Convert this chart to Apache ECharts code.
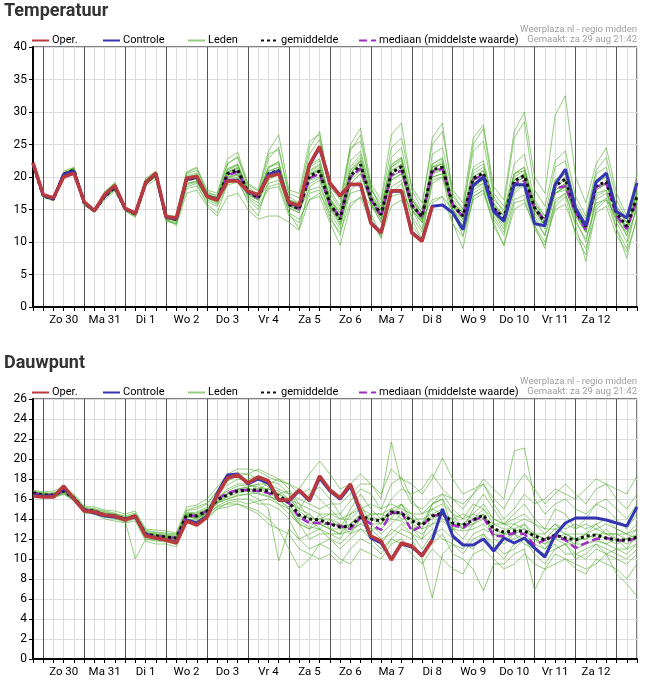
<!DOCTYPE html>
<html><head><meta charset="utf-8">
<script src="https://cdn.jsdelivr.net/npm/echarts@6/dist/echarts.min.js"></script>
<style>html,body{margin:0;padding:0;background:#fff}#c{width:652px;height:684px}</style>
</head><body><div id="c"></div>
<script>
// 6-hourly steps from za 29 aug 18:00 to zo 13 sep 12:00 (60 points)
const dayLabels = ['Zo 30','Ma 31','Di 1','Wo 2','Do 3','Vr 4','Za 5','Zo 6','Ma 7','Di 8','Wo 9','Do 10','Vr 11','Za 12'];
const steps = Array.from({length:60}, (_, i) => i);

// ---------- Temperatuur ----------
const tOper = [22.2,17.3,16.8,20.0,20.6,16.2,14.8,17.3,18.7,15.2,14.4,19.1,20.6,13.9,13.7,19.8,20.1,17.0,16.5,19.4,19.4,17.8,17.3,20.1,20.5,16.1,15.6,21.9,24.7,19.1,17.1,18.9,18.9,12.9,11.4,17.9,17.9,11.4,10.1,15.5];
const tControle = [22.1,17.2,16.7,20.4,20.9,16.1,14.8,17.2,18.6,15.1,14.4,19.0,20.5,13.8,13.6,19.7,20.0,17.1,16.6,19.5,19.5,17.7,17.2,20.4,20.9,16.0,15.5,21.8,24.5,19.0,17.2,18.8,18.8,13.0,11.5,17.8,17.8,11.5,10.2,15.5,
  15.7,14.5,11.9,18.7,20.0,14.7,13.2,18.8,18.8,12.8,12.5,18.8,21.2,15.2,12.5,19.2,20.6,14.7,13.7,19.1];
const tGemiddelde = [22.0, 17.1,16.6,20.4,21.1, 16.0,14.8,17.0,18.4, 15.1,14.3,19.2,20.4, 13.8,13.5,19.6,19.9, 17.0,16.5,20.5,21.1, 17.7,16.8,20.5,21.0, 15.8,15.1,20.1,20.9, 15.9,13.5,20.1,21.9, 16.7,14.2,20.6,21.6, 15.7,13.9,21.1,21.5, 15.7,14.0,19.8,20.6, 15.2,13.7,19.4,20.2, 15.3,13.0,18.6,19.7, 14.8,12.4,18.6,19.3, 14.5,12.4,17.0];
const tMediaan = [22.0,17.1,16.6,20.5,21.0,16.0,14.8,17.0,18.3,15.1,14.3,19.2,20.4,13.8,13.5,19.6,19.8,17.0,16.5,20.3,20.8,17.7,16.8,20.3,20.8,15.8,15.1,19.8,20.5,15.8,13.8,20.0,21.3,16.5,14.0,20.3,21.0,15.6,13.9,20.8,21.3,15.6,13.9,19.6,20.4,15.2,13.5,19.0,19.4,15.2,13.3,18.2,18.6,14.6,11.9,18.5,19.0,14.0,12.0,16.5];
const tLid01 = [22.0, 17.3,16.8,20.9,21.5, 16.2,15.0,17.6,19.2, 15.4,14.6,19.6,20.8, 14.2,13.9,20.5,21.0, 17.8,17.0,22.1,23.0, 18.5,17.2,22.8,24.6, 17.0,16.0,23.5,25.8, 17.5,15.0,24.0,26.5, 18.2,15.5,22.0,23.0, 16.5,14.0,21.0,22.2, 15.0,12.5,18.0,19.0, 14.0,11.5,17.5,18.8, 13.5,11.0,16.0,17.5, 13.0,10.5,15.5,16.8, 13.5,11.0,15.0];
const tLid02 = [21.8, 16.9,16.4,20.0,20.6, 15.6,14.6,16.5,17.8, 14.8,13.8,18.6,19.6, 13.2,12.8,18.2,18.6, 16.2,15.5,18.8,19.2, 16.5,15.0,18.2,18.5, 14.0,13.0,17.5,18.0, 13.5,11.5,16.0,16.8, 13.0,10.8,15.5,16.5, 12.5,10.5,16.0,17.0, 12.8,10.8,17.0,18.0, 13.5,11.0,16.5,17.2, 12.5,10.0,15.0,15.8, 11.5,9.0,14.5,15.5, 11.0,8.5,13.5];
const tLid03 = [22.1, 17.2,16.7,20.6,21.3, 16.1,14.9,17.2,18.5, 15.2,14.4,19.4,20.6, 13.9,13.6,20.0,20.4, 17.4,16.8,21.0,21.8, 18.0,17.5,21.5,22.0, 16.5,16.0,21.0,22.0, 16.5,14.5,22.5,24.0, 18.0,16.0,24.5,26.0, 18.5,16.0,25.0,27.0, 18.0,16.0,26.0,28.0, 18.5,16.5,27.0,30.0, 20.0,17.5,29.5,32.5, 20.0,16.0,22.0,24.5, 17.5,14.0,19.0];
const tLid04 = [22.0, 17.0,16.5,20.3,21.0, 15.9,14.7,17.1,18.6, 15.0,14.2,19.0,20.2, 13.6,13.3,19.8,20.3, 17.2,16.8,21.2,21.9, 18.2,17.0,21.5,22.4, 16.2,15.5,21.8,22.8, 16.8,14.0,21.0,22.5, 17.0,14.5,21.5,22.8, 16.0,14.0,22.0,23.0, 16.5,14.5,21.5,22.5, 16.0,14.0,20.5,21.5, 15.5,13.0,19.5,20.5, 15.0,12.0,19.0,20.0, 14.5,12.0,17.5];
const tLid05 = [21.9, 17.1,16.6,20.2,20.9, 16.0,14.9,16.9,18.1, 15.0,14.1,19.2,20.3, 14.0,13.7,19.0,19.3, 16.5,15.8,19.5,20.0, 16.8,15.5,18.5,19.0, 14.5,13.5,16.5,17.0, 13.0,9.5,15.5,17.0, 14.5,11.0,17.5,19.0, 14.0,11.5,19.0,20.0, 14.5,11.0,16.5,17.5, 13.0,9.5,15.0,16.0, 12.5,9.0,16.5,17.5, 12.5,7.0,15.0,16.5, 12.0,7.5,14.0];
const tLid06 = [22.0, 17.2,16.7,20.5,21.3, 16.3,15.0,17.8,19.0, 15.3,14.5,19.8,20.9, 13.9,13.8,20.6,21.4, 17.5,17.2,22.0,23.2, 18.8,17.8,23.5,24.2, 17.5,16.8,24.5,27.0, 18.0,15.5,25.0,27.5, 19.0,16.5,26.5,28.3, 18.0,15.0,26.0,28.3, 17.0,15.0,24.0,25.5, 17.0,14.5,22.0,23.5, 16.5,14.0,21.5,22.5, 16.0,13.5,20.5,21.5, 15.5,13.0,19.0];
const tLid07 = [22.0, 17.0,16.5,20.4,21.0, 15.8,14.6,16.8,18.2, 14.9,14.0,18.9,20.0, 13.4,13.0,18.8,19.2, 16.8,16.0,19.8,20.3, 17.2,16.5,19.0,19.5, 15.5,15.0,18.0,18.5, 15.0,13.5,17.5,18.0, 15.5,14.0,17.0,17.5, 15.0,13.5,16.5,17.0, 15.0,13.5,17.5,18.5, 14.5,12.5,18.0,19.0, 15.0,12.5,17.5,18.0, 14.5,12.5,16.0,16.5, 14.0,12.5,16.0];
const tLid08 = [22.0, 17.3,16.8,20.7,21.4, 16.1,14.8,17.3,18.8, 15.2,14.3,19.3,20.5, 13.7,13.2,19.3,19.8, 17.0,16.4,20.8,21.5, 17.8,16.8,20.8,21.5, 16.0,15.2,20.5,21.5, 16.2,13.5,20.5,22.5, 16.5,13.5,21.0,22.0, 16.0,13.0,23.5,24.5, 17.5,15.0,25.0,27.5, 17.5,15.5,26.0,28.5, 18.0,15.5,22.5,24.0, 17.0,14.0,21.0,23.0, 16.5,13.5,20.5];
const tLid09 = [21.9, 16.9,16.3,20.2,21.0, 15.8,14.5,16.8,18.0, 14.8,13.9,18.8,20.1, 13.3,12.8,18.5,19.0, 15.8,14.5,19.0,19.8, 16.0,14.0,19.5,20.5, 14.5,12.0,18.5,19.5, 14.0,11.0,18.0,19.5, 14.0,10.5,18.5,19.5, 13.5,10.5,19.5,20.0, 13.0,9.0,17.0,18.0, 12.5,9.5,16.0,16.5, 12.0,9.5,15.5,17.0, 11.0,8.0,17.0,18.0, 12.0,9.0,16.0];
const tLid10 = [22.1, 17.1,16.6,20.4,21.2, 16.0,14.8,17.1,18.4, 15.1,14.3,19.1,20.3, 13.8,13.4,19.6,20.0, 17.0,16.6,20.4,21.0, 17.6,16.8,20.6,21.2, 15.8,15.2,20.0,21.0, 16.0,13.5,20.5,22.0, 17.0,14.5,20.0,21.0, 15.5,13.5,21.5,22.0, 15.5,14.0,19.5,20.0, 15.0,13.5,19.5,20.5, 15.0,12.5,19.0,20.5, 14.5,12.0,19.5,20.0, 14.5,12.0,17.5];
const tLid11 = [22.0, 17.2,16.7,20.5,21.2, 16.2,14.9,17.5,18.9, 15.3,14.5,19.5,20.7, 14.1,13.9,20.8,21.5, 18.0,17.5,22.8,23.8, 19.0,18.0,24.0,26.5, 18.0,17.5,25.5,26.5, 18.5,16.5,24.5,25.5, 18.5,15.0,23.0,24.5, 17.0,14.5,20.5,21.5, 16.0,13.5,20.0,21.0, 15.5,14.0,20.5,21.0, 15.5,13.0,18.0,19.0, 14.5,11.5,18.0,19.0, 14.0,11.0,18.0];
const tLid12 = [22.0, 17.0,16.6,20.3,21.0, 15.9,14.7,16.9,18.3, 15.0,14.2,18.9,20.0, 13.6,12.5,17.5,18.0, 15.5,14.0,17.0,17.5, 15.0,13.5,14.0,14.0, 13.0,11.8,16.5,17.5, 14.5,12.0,19.0,20.5, 16.0,13.0,20.0,21.0, 15.0,12.0,20.0,20.5, 15.5,14.0,18.5,19.0, 14.5,12.0,19.0,20.0, 14.0,11.0,17.5,18.5, 13.5,10.0,16.5,17.5, 13.0,10.0,15.5];
const tLid13 = [22.0, 17.2,16.7,20.6,21.3, 16.1,14.9,17.3,18.7, 15.2,14.4,19.5,20.7, 14.0,13.7,20.2,20.6, 17.3,16.9,21.3,22.0, 18.0,17.2,21.5,22.3, 16.3,15.8,21.5,22.5, 16.8,14.5,21.5,23.5, 17.5,15.0,21.8,23.0, 16.5,14.5,22.0,22.8, 16.0,14.5,21.0,22.0, 15.8,14.2,20.5,21.5, 16.0,13.5,19.5,21.0, 15.5,13.0,19.5,20.5, 15.0,13.0,18.0];
const tLid14 = [22.0, 17.0,16.5,20.2,20.9, 15.9,14.7,16.8,18.1, 15.0,14.2,18.9,20.1, 13.6,13.2,19.0,19.4, 16.7,16.2,19.9,20.4, 17.4,16.4,19.8,20.3, 15.3,14.5,19.0,19.8, 15.2,12.5,19.0,20.5, 15.8,13.0,19.5,20.5, 15.0,13.0,20.0,20.5, 15.0,13.0,18.5,19.5, 14.5,13.0,18.5,19.0, 14.5,12.0,17.5,18.5, 14.0,11.5,17.5,18.0, 13.5,11.5,16.0];
const tLid15 = [22.0, 17.1,16.6,20.4,21.0, 16.0,14.8,16.9,18.3, 15.1,14.3,19.3,20.5, 13.8,13.5,19.5,19.7, 17.1,16.6,20.8,21.4, 17.5,16.5,20.0,20.8, 15.6,14.8,20.8,21.8, 16.5,14.0,21.0,23.0, 17.2,14.8,19.5,20.5, 15.0,13.0,20.5,21.0, 14.5,12.5,20.5,21.5, 16.5,15.0,20.0,21.0, 16.0,14.0,17.5,18.5, 14.0,11.5,19.5,20.5, 15.5,13.5,17.5];
const tLid16 = [22.0, 17.2,16.6,20.5,21.1, 16.1,14.8,17.1,18.5, 15.1,14.3,19.2,20.4, 13.8,13.6,19.8,20.2, 16.9,16.3,20.2,20.8, 17.8,17.2,21.0,21.5, 16.5,15.8,19.5,20.0, 15.5,12.8,19.5,21.0, 16.0,13.5,21.5,22.5, 16.5,14.5,21.5,22.0, 16.0,14.5,19.0,19.5, 15.0,13.0,18.5,19.5, 15.5,13.5,18.0,19.0, 15.0,12.5,18.0,19.0, 14.5,12.5,16.5];
const tLid17 = [22.1, 17.1,16.7,20.3,21.0, 15.9,14.8,17.0,18.4, 15.0,14.2,19.0,20.3, 13.7,13.4,19.4,19.8, 17.0,16.6,20.6,21.3, 17.6,16.9,20.3,20.8, 15.8,15.0,20.3,21.2, 16.0,13.0,19.8,21.5, 16.8,14.0,20.8,22.0, 15.5,13.5,21.0,21.5, 15.5,13.5,20.0,21.0, 15.5,14.0,19.5,20.5, 15.0,12.5,18.5,19.5, 14.5,12.0,18.0,19.0, 14.0,12.0,17.0];
const tLid18 = [21.9, 17.0,16.6,20.5,21.2, 16.0,14.9,17.2,18.6, 15.2,14.4,19.4,20.6, 13.9,13.5,19.7,20.0, 16.8,16.2,20.0,20.5, 17.0,16.0,20.0,20.5, 15.2,14.5,20.5,21.0, 15.5,13.5,20.5,22.5, 16.5,14.0,20.5,21.5, 15.5,13.5,21.5,22.5, 16.0,14.0,19.5,20.5, 14.5,13.0,19.0,20.0, 15.0,12.5,18.5,20.0, 14.5,12.0,18.5,19.0, 14.5,12.0,16.5];
const tLeden = [tLid01,tLid02,tLid03,tLid04,tLid05,tLid06,tLid07,tLid08,tLid09,tLid10,tLid11,tLid12,tLid13,tLid14,tLid15,tLid16,tLid17,tLid18];

// ---------- Dauwpunt ----------
const dOper = [16.3,16.2,16.2,17.3,16.0,14.8,14.7,14.4,14.3,13.9,14.3,12.3,12.1,11.9,11.6,13.8,13.4,14.2,16.4,18.1,18.4,17.6,18.2,17.8,15.9,15.9,16.9,15.9,18.3,16.9,16.1,17.5,14.8,12.3,11.8,9.9,11.6,11.3,10.3,11.9];
const dControle = [16.4,16.3,16.3,17.1,16.0,14.9,14.6,14.3,14.2,14.0,14.2,12.4,12.1,11.9,11.7,13.9,13.6,14.3,16.6,18.4,18.5,17.5,18.0,17.6,15.9,15.8,16.8,15.8,18.1,16.8,16.0,17.3,14.6,12.1,11.6,10.0,11.5,11.2,10.4,11.9,
  15.0,12.3,11.4,11.4,12.0,10.8,12.1,11.6,12.1,11.1,10.2,12.4,13.6,14.1,14.1,14.1,13.9,13.6,13.3,15.2];
const dGemiddelde = [16.6, 16.4,16.4,16.8,16.1, 14.9,14.8,14.4,14.3, 14.0,14.3,12.5,12.3, 12.2,12.1,14.4,14.3, 14.8,15.9,16.4,16.8, 16.9,16.9,16.8,16.3, 15.7,14.4,14.0,13.9, 13.5,13.2,13.3,14.2, 14.0,13.8,14.7,14.6, 13.8,13.4,14.3,14.6, 13.6,13.4,13.9,14.4, 13.0,12.7,12.8,12.8, 12.3,11.9,12.4,12.1, 11.9,12.3,12.4,12.1, 11.9,11.9,12.2];
const dMediaan = [16.6,16.4,16.4,16.8,16.1,14.9,14.8,14.4,14.3,14.0,14.3,12.5,12.3,12.2,12.1,14.4,14.3,14.8,16.0,16.6,16.9,16.9,16.8,16.6,16.0,15.6,14.2,13.6,13.6,13.5,13.3,13.0,14.2,13.5,12.9,14.6,14.7,12.8,13.3,14.3,14.5,13.4,13.1,13.9,14.2,12.3,12.3,12.6,12.5,11.4,11.9,12.3,11.9,11.1,11.6,12.0,12.1,11.9,11.8,12.1];
const dLid01 = [16.8, 16.5,16.6,17.0,16.3, 15.2,15.0,14.8,14.6, 14.2,14.5,12.8,12.6, 12.5,12.4,14.8,15.0, 15.5,16.8,17.8,18.6, 18.5,18.0,17.2,16.5, 16.8,15.0,16.5,17.2, 16.0,14.5,15.8,17.0, 16.5,15.0,17.5,18.2, 16.0,14.5,15.5,16.0, 14.5,13.0,15.0,16.5, 15.0,13.5,14.5,15.5, 14.0,13.0,15.0,14.5, 13.0,14.0,15.5,15.0, 14.0,13.0,14.5];
const dLid02 = [16.4, 16.2,16.1,16.5,15.8, 14.6,14.5,14.0,13.8, 13.6,13.8,11.8,11.5, 11.5,11.2,13.6,13.5, 14.0,15.0,15.2,15.5, 15.2,14.8,14.0,13.0, 12.5,11.0,10.5,10.0, 10.5,9.5,11.0,12.0, 11.5,10.5,12.0,11.5, 10.5,9.5,11.0,10.0, 9.0,8.5,10.5,11.0, 10.0,9.0,9.5,10.5, 9.5,9.0,10.5,10.0, 9.0,8.5,10.0,9.5, 9.0,8.0,9.5];
const dLid03 = [16.9, 16.7,16.8,17.2,16.5, 15.3,15.2,14.9,14.8, 14.5,14.8,13.0,12.9, 12.8,12.6,15.2,15.4, 16.0,17.2,18.5,19.0, 19.0,18.8,18.2,17.8, 17.5,17.0,18.5,19.8, 18.5,17.0,17.5,18.5, 17.5,16.5,19.0,18.0, 17.5,16.5,18.0,20.1, 18.0,16.5,17.0,17.5, 16.0,15.0,17.0,18.5, 17.0,15.5,16.5,17.5, 16.5,15.5,17.0,17.5, 16.0,15.0,16.5];
const dLid04 = [16.6, 16.3,16.4,16.7,16.0, 14.9,14.7,14.5,14.2, 13.9,14.2,12.4,12.3, 12.0,12.0,14.3,14.0, 14.5,15.5,16.5,17.0, 17.2,17.5,16.5,15.5, 14.5,13.5,13.0,14.5, 13.0,12.5,14.5,15.5, 13.5,12.5,13.5,14.5, 13.0,12.0,14.5,15.0, 13.0,12.0,13.5,14.5, 12.0,11.5,12.5,13.5, 12.0,11.0,12.5,12.0, 11.0,11.5,12.0,13.0, 12.0,11.0,12.5];
const dLid05 = [16.5, 16.4,16.2,16.6,15.9, 14.7,14.9,14.3,14.1, 13.8,10.0,12.0,11.9, 11.8,11.6,13.8,13.8, 14.6,15.6,16.0,16.3, 16.5,16.0,15.0,9.8, 13.0,12.0,12.5,13.0, 12.0,11.0,12.0,13.0, 12.5,11.5,13.0,12.5, 12.0,10.0,6.1,10.5, 11.5,10.5,12.0,12.5, 11.0,10.0,11.5,12.0, 10.5,9.5,11.0,11.5, 10.5,10.0,11.0,10.5, 10.0,9.5,10.5];
const dLid06 = [16.7, 16.6,16.5,17.0,16.2, 15.0,14.9,14.6,14.5, 14.1,14.4,12.7,12.5, 12.4,12.3,14.6,14.7, 15.2,16.4,17.4,18.0, 18.0,18.3,17.8,17.5, 16.5,16.0,15.5,15.0, 15.5,15.5,16.5,17.5, 17.5,16.0,21.7,17.5, 15.5,15.0,16.0,16.5, 16.0,15.5,16.5,18.0, 17.0,16.0,20.8,21.1, 16.0,14.5,15.5,16.0, 15.0,14.5,15.5,16.0, 15.0,14.0,15.5];
const dLid07 = [16.5, 16.3,16.3,16.6,16.0, 14.8,14.6,14.3,14.3, 13.9,14.1,12.2,12.0, 11.9,11.8,14.0,13.9, 14.3,15.3,15.8,16.0, 16.0,15.5,15.5,15.0, 14.0,12.0,11.0,11.5, 11.0,10.0,9.5,11.0, 10.5,10.0,11.5,12.0, 11.0,10.5,11.5,12.5, 10.5,10.0,9.0,6.8, 9.5,9.5,10.5,11.0, 6.9,9.0,9.5,10.0, 9.5,9.0,9.5,10.5, 8.5,7.5,6.3];
const dLid08 = [16.6, 16.4,16.4,16.8,16.1, 14.9,14.8,14.4,14.3, 14.0,14.3,12.5,12.3, 12.2,12.1,14.4,14.4, 14.9,15.8,16.5,16.9, 17.0,17.0,17.0,16.5, 16.0,15.0,14.5,13.5, 13.5,13.5,13.0,14.0, 14.5,14.5,15.0,15.5, 14.0,13.5,15.0,14.5, 14.0,14.5,14.0,15.0, 13.5,13.0,13.0,13.5, 12.5,12.0,13.0,12.5, 12.5,12.5,13.5,12.5, 12.5,12.0,13.0];
const dLid09 = [16.6, 16.5,16.3,16.9,16.2, 15.0,14.8,14.5,14.4, 14.1,14.4,12.6,12.4, 12.3,12.2,14.5,14.6, 15.0,16.0,17.0,17.5, 17.5,17.0,17.5,18.0, 17.0,15.5,14.0,13.0, 14.0,13.0,15.0,16.5, 15.0,14.0,16.0,17.0, 16.5,17.0,18.5,17.0, 16.0,15.0,16.5,17.5, 15.5,14.0,15.0,16.5, 15.5,16.0,17.0,16.5, 16.0,17.0,18.0,17.5, 17.0,16.5,18.3];
const dLid10 = [16.4, 16.2,16.2,16.5,15.9, 14.7,14.6,14.2,14.0, 13.7,14.0,12.0,11.8, 11.7,11.5,13.8,13.6, 14.2,15.0,15.6,15.8, 15.5,15.8,16.0,15.5, 15.0,13.5,12.0,12.5, 12.5,12.0,13.5,14.5, 13.0,12.0,12.5,13.5, 12.5,11.0,12.5,13.0, 12.0,11.5,11.0,12.5, 11.5,10.5,11.0,12.0, 11.0,10.5,11.5,10.5, 10.5,11.0,11.5,11.0, 10.5,10.0,11.0];
const dLid11 = [16.8, 16.6,16.6,17.0,16.4, 15.1,15.0,14.7,14.5, 14.3,14.6,12.9,12.7, 12.6,12.5,14.9,15.2, 15.6,16.8,17.8,18.3, 18.5,19.0,18.5,18.0, 17.5,16.5,17.0,16.0, 15.0,14.0,14.5,15.0, 14.5,13.5,14.5,15.5, 14.5,13.5,15.5,16.5, 15.0,14.0,15.5,15.0, 14.0,13.5,14.0,14.5, 13.5,12.5,13.5,13.0, 13.5,13.0,13.5,14.0, 13.0,12.5,13.5];
const dLid12 = [16.5, 16.3,16.4,16.7,16.0, 14.8,14.7,14.4,14.2, 13.9,14.2,12.3,12.2, 12.0,11.9,14.2,14.1, 14.5,15.2,15.5,15.5, 15.0,14.5,13.5,13.0, 11.0,9.1,10.0,11.5, 12.0,11.5,12.5,13.0, 12.0,11.0,12.0,13.0, 12.5,12.0,13.0,12.0, 11.5,11.0,12.5,13.0, 12.5,12.0,12.5,11.5, 11.0,10.5,11.0,11.5, 10.0,10.5,11.5,10.5, 11.0,10.5,11.5];
const dLid13 = [16.7, 16.5,16.5,16.9,16.2, 15.0,14.9,14.5,14.4, 14.1,14.4,12.6,12.5, 12.3,12.2,14.6,14.5, 15.0,16.2,16.8,17.3, 17.4,17.2,17.0,16.8, 16.0,15.5,15.0,14.5, 14.5,14.0,14.0,15.0, 15.5,15.0,15.5,15.0, 14.5,14.5,15.0,15.5, 14.5,14.0,14.5,15.5, 14.0,13.5,13.5,14.0, 13.5,13.0,13.0,13.5, 13.0,13.5,13.0,13.5, 13.0,12.5,13.0];
const dLid14 = [16.5, 16.3,16.3,16.7,16.0, 14.8,14.7,14.3,14.2, 13.9,14.2,12.4,12.2, 12.1,12.0,14.2,14.1, 14.6,15.6,16.0,16.4, 16.5,16.6,16.3,15.8, 15.2,13.8,13.2,13.0, 12.5,12.5,12.8,13.5, 13.0,13.0,14.0,13.8, 13.0,12.5,13.5,13.8, 13.0,12.8,13.0,13.5, 12.5,12.0,12.0,12.5, 11.5,11.0,12.0,11.5, 11.5,11.5,11.8,11.5, 11.0,11.0,11.5];
const dLid15 = [16.6, 16.4,16.4,16.8,16.1, 14.9,14.8,14.4,14.3, 14.0,14.3,12.5,12.3, 12.2,12.1,14.4,14.3, 14.8,16.0,16.6,17.0, 17.2,17.5,17.5,17.0, 16.5,14.5,13.5,14.0, 14.5,14.5,13.0,13.5, 14.5,14.5,14.0,15.5, 13.5,13.0,15.5,16.0, 13.0,13.5,14.5,14.0, 13.5,13.5,13.0,12.5, 12.5,12.5,13.5,12.5, 12.0,12.5,13.0,12.5, 12.5,12.5,12.0];
const dLid16 = [16.6, 16.4,16.3,16.8,16.1, 14.9,14.7,14.4,14.3, 14.0,14.2,12.5,12.3, 12.2,12.0,14.3,14.2, 14.7,15.7,16.2,16.6, 16.8,16.5,16.2,16.0, 15.5,14.0,14.5,13.5, 13.0,12.5,13.5,14.5, 14.0,13.5,15.0,14.0, 14.0,13.0,13.5,14.5, 14.0,13.0,13.5,14.0, 13.0,12.5,13.5,13.0, 12.0,11.5,12.0,12.5, 12.0,12.0,12.5,12.0, 11.5,12.0,12.5];
const dLid17 = [16.7, 16.5,16.4,16.9,16.2, 15.0,14.8,14.5,14.3, 14.1,14.3,12.6,12.4, 12.3,12.1,14.5,14.4, 14.9,16.0,16.4,16.8, 16.8,16.8,17.0,16.5, 15.8,14.8,14.0,14.0, 14.0,13.5,12.5,14.0, 14.0,14.0,14.5,14.5, 14.0,14.0,14.5,14.0, 13.5,13.5,13.5,14.5, 13.0,12.5,12.5,13.0, 12.5,12.0,12.5,12.0, 12.0,12.0,12.5,12.5, 12.0,12.0,12.0];
const dLid18 = [16.5, 16.3,16.4,16.7,16.0, 14.8,14.8,14.3,14.2, 13.9,14.3,12.4,12.2, 12.1,12.1,14.3,14.2, 14.6,15.8,16.5,16.9, 17.0,16.8,16.6,16.0, 15.0,13.5,13.0,13.5, 13.0,13.0,13.5,14.0, 13.5,13.5,15.0,14.5, 13.0,13.5,14.0,14.5, 13.5,13.0,14.0,14.5, 12.5,12.5,12.5,12.0, 12.0,11.5,12.5,12.0, 11.5,12.5,12.0,11.5, 12.0,11.5,12.0];
const dLeden = [dLid01,dLid02,dLid03,dLid04,dLid05,dLid06,dLid07,dLid08,dLid09,dLid10,dLid11,dLid12,dLid13,dLid14,dLid15,dLid16,dLid17,dLid18];

const FONT = 'Roboto, "Liberation Sans", Arial, sans-serif';
const legendNames = ['Oper.','Controle','Leden','gemiddelde','mediaan (middelste waarde)'];
const legendLefts = [31, 102, 187, 260, 358];

function xAxis(g){
  return {
    type:'category', gridIndex:g, data:steps, boundaryGap:false,
    axisLine:{lineStyle:{color:'#000', width:2}},
    axisTick:{interval:0, length:4, lineStyle:{color:'#000', width:1}},
    axisLabel:{interval:0, color:'#000', fontSize:11.5, fontFamily:FONT, margin:7,
      formatter:(v, i) => (i % 4 === 3 && dayLabels[(i-3)/4]) ? dayLabels[(i-3)/4] : ''},
    splitLine:{show:true, interval:0, lineStyle:{color:['#dcdcdc','#555555','#dcdcdc','#dcdcdc'], width:1}}
  };
}
function yAxis(g, max, step){
  return {
    type:'value', gridIndex:g, min:0, max:max, interval:step,
    axisLine:{show:true, lineStyle:{color:'#000', width:2}},
    axisTick:{show:true, length:4, lineStyle:{color:'#000'}},
    axisLabel:{color:'#000', fontSize:12, fontFamily:FONT, margin:6},
    splitLine:{show:true, lineStyle:{color:'#dcdcdc', width:1}}
  };
}
function panelSeries(g, oper, controle, gem, med, leden){
  const s = [];
  leden.forEach(d => s.push({name:'Leden', type:'line', xAxisIndex:g, yAxisIndex:g, data:d, symbol:'none',
    lineStyle:{color:'#4fae2b', width:1, opacity:0.6}, itemStyle:{color:'#4fae2b'}, z:2}));
  s.push({name:'mediaan (middelste waarde)', type:'line', xAxisIndex:g, yAxisIndex:g, data:med, symbol:'none',
    lineStyle:{color:'#a32bc6', width:2.5, type:[8,4]}, itemStyle:{color:'#a32bc6'}, z:3});
  s.push({name:'gemiddelde', type:'line', xAxisIndex:g, yAxisIndex:g, data:gem, symbol:'none',
    lineStyle:{color:'#111', width:3, type:[3,3]}, itemStyle:{color:'#111'}, z:4});
  s.push({name:'Controle', type:'line', xAxisIndex:g, yAxisIndex:g, data:controle, symbol:'none',
    lineStyle:{color:'#3535b3', width:3}, itemStyle:{color:'#3535b3'}, z:5});
  s.push({name:'Oper.', type:'line', xAxisIndex:g, yAxisIndex:g, data:oper, symbol:'none',
    lineStyle:{color:'#b8393e', width:3.5}, itemStyle:{color:'#b8393e'}, z:6});
  return s;
}
function legends(top){
  return legendNames.map((n, k) => ({
    top:top, left:legendLefts[k], itemWidth:17, itemHeight:10, padding:0, selectedMode:false,
    itemStyle:{opacity:0},
    textStyle:{fontSize:11, color:'#000', fontFamily:FONT, padding:[0,0,0,-2]}, data:[n]
  }));
}

const chart = echarts.init(document.getElementById('c'), null, {renderer:'canvas'});
chart.setOption({
  animation:false,
  backgroundColor:'#fff',
  grid:[
    {left:33, top:47, width:604, height:260, show:true, borderColor:'#000', borderWidth:1, backgroundColor:'transparent'},
    {left:33, top:399, width:604, height:260, show:true, borderColor:'#000', borderWidth:1, backgroundColor:'transparent'}
  ],
  legend:[].concat(legends(35), legends(387)),
  xAxis:[xAxis(0), xAxis(1)],
  yAxis:[yAxis(0, 40, 5), yAxis(1, 26, 2)],
  series:[].concat(panelSeries(0, tOper, tControle, tGemiddelde, tMediaan, tLeden),
                   panelSeries(1, dOper, dControle, dGemiddelde, dMediaan, dLeden)),
  graphic:[
    {type:'text', left:4, top:2, style:{text:'Temperatuur', font:'bold 18px ' + FONT, fill:'#333'}},
    {type:'text', left:4, top:354, style:{text:'Dauwpunt', font:'bold 18px ' + FONT, fill:'#333'}},
    {type:'text', right:15, top:25, style:{text:'Weerplaza.nl - regio midden', font:'9.5px ' + FONT, fill:'#a0a0a0'}},
    {type:'text', right:15, top:35, style:{text:'Gemaakt: za 29 aug 21:42', font:'9.5px ' + FONT, fill:'#a0a0a0'}},
    {type:'text', right:15, top:377, style:{text:'Weerplaza.nl - regio midden', font:'9.5px ' + FONT, fill:'#a0a0a0'}},
    {type:'text', right:15, top:387, style:{text:'Gemaakt: za 29 aug 21:42', font:'9.5px ' + FONT, fill:'#a0a0a0'}}
  ]
});
</script>
</body></html>
